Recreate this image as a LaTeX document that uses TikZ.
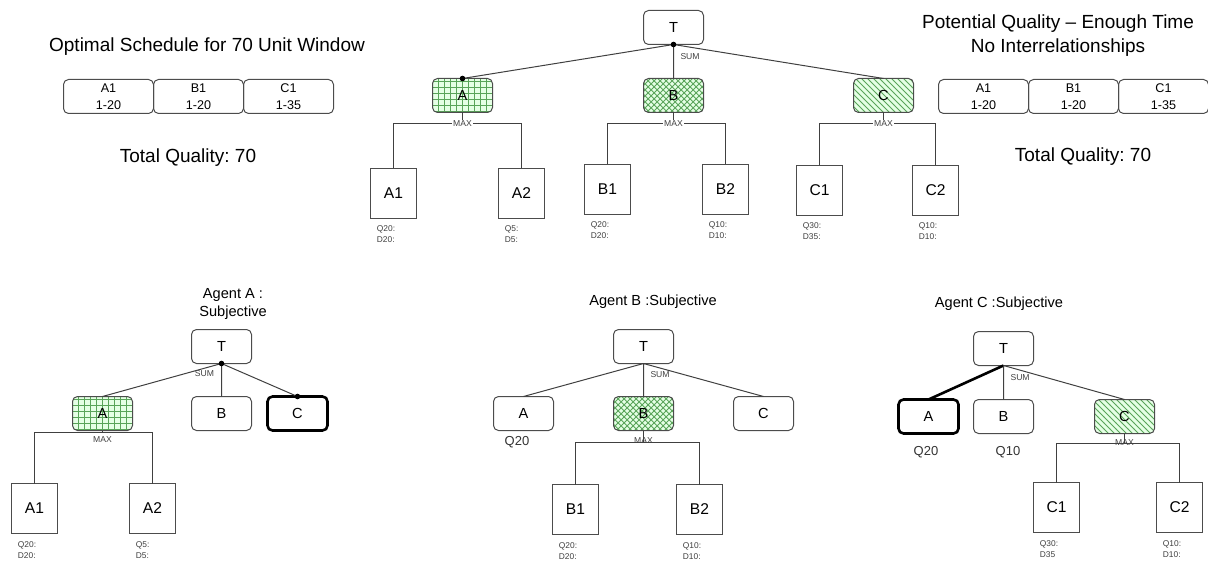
\documentclass[tikz,border=0pt]{standalone}
\usepackage{fontspec}
\setmainfont{Liberation Sans}
\frenchspacing
\usetikzlibrary{patterns,positioning}
\tikzset{
  task/.style={draw=black!70, line width=0.5pt, rounded corners=2.5pt, minimum width=30pt, minimum height=17pt, inner sep=0pt, outer sep=0pt, font=\fontsize{7.3}{8}\selectfont},
  leaf/.style={draw=black!70, line width=0.5pt, minimum width=23pt, minimum height=25pt, inner sep=0pt, outer sep=0pt, font=\fontsize{7.8}{9}\selectfont},
  slot/.style={draw=black!70, line width=0.5pt, rounded corners=2.5pt, minimum width=45pt, minimum height=17pt, inner sep=0pt, outer sep=0pt, align=center, font=\fontsize{6.3}{8.5}\selectfont},
  chosen/.style={draw=black, line width=1.3pt},
  gridA/.style={preaction={fill=green!10}, pattern=grid, pattern color=green!45!black!65},
  hatchB/.style={preaction={fill=green!10}, pattern=crosshatch, pattern color=green!45!black!65},
  stripeC/.style={preaction={fill=green!10}, pattern=north west lines, pattern color=green!45!black!65},
  qual/.style={font=\fontsize{4.2}{5.2}\selectfont, align=left, text=black!75, inner sep=0pt},
  oplabel/.style={font=\fontsize{4.3}{5}\selectfont, text=black!75, inner sep=0.5pt},
  qlabel/.style={font=\fontsize{6.5}{8}\selectfont, text=black!80},
  heading/.style={font=\fontsize{9.5}{12}\selectfont, align=center},
  agent/.style={font=\fontsize{7.3}{9}\selectfont, align=center},
  link/.style={draw=black!75, line width=0.5pt},
}
\begin{document}
\begin{tikzpicture}[x=0.5pt,y=-0.5pt]
    \newcommand{\sumDot}[1]{
        \fill #1 circle (1.4pt);
    }
\useasboundingbox (0,0) rectangle (1208,561);

\node[heading] (optTitle) at (207,47) {Optimal Schedule for 70 Unit Window};
\node[slot] (oA1) at (108.5,96.5) {A1\\1-20};
\node[slot, right=0pt of oA1] (oB1) {B1\\1-20};
\node[slot, right=0pt of oB1] (oC1) {C1\\1-35};
\node[heading] (optTotal) at (188,158) {Total Quality: 70};

\node[heading] (potTitle) at (1058,36) {Potential Quality -- Enough Time\\No Interrelationships};
\node[slot] (pA1) at (983.5,96.5) {A1\\1-20};
\node[slot, right=0pt of pA1] (pB1) {B1\\1-20};
\node[slot, right=0pt of pB1] (pC1) {C1\\1-35};
\node[heading] (potTotal) at (1083,157) {Total Quality: 70};

\node[task] (T) at (673.5,27.5) {T};
\node[task, gridA] (A) at (462.5,95.5) {A};
\node[task, hatchB] (B) at (673.5,95.5) {B};
\node[task, stripeC] (C) at (883.5,95.5) {C};
\node[leaf] (A1) at (393.5,193.5) {A1};
\node[leaf] (A2) at (521.5,193.5) {A2};
\node[leaf] (B1) at (607.5,189.5) {B1};
\node[leaf] (B2) at (725.5,189.5) {B2};
\node[leaf] (C1) at (819.5,190.5) {C1};
\node[leaf] (C2) at (935.5,190.5) {C2};
\draw[link] (T.south) -- (A.north) (T.south) -- (B.north) (T.south) -- (C.north);
\sumDot{(T.south)}
\sumDot{(A.north)}
\node[oplabel, below right=3.6pt and 2.8pt of T.south] (sum) {SUM};
\coordinate (Abar) at (462.5,123.5);
\coordinate (Bbar) at (673.5,123.5);
\coordinate (Cbar) at (883.5,123.5);
\draw[link] (A.south) -- (Abar) (A1.north) |- (Abar) -| (A2.north);
\draw[link] (B.south) -- (Bbar) (B1.north) |- (Bbar) -| (B2.north);
\draw[link] (C.south) -- (Cbar) (C1.north) |- (Cbar) -| (C2.north);
\node[oplabel, fill=white] (Amax) at (Abar) {MAX};
\node[oplabel, fill=white] (Bmax) at (Bbar) {MAX};
\node[oplabel, fill=white] (Cmax) at (Cbar) {MAX};
\node[qual, below right=3.6pt and 3pt of A1.south west] (qA1) {Q20:\\D20:};
\node[qual, below right=3.6pt and 3pt of A2.south west] (qA2) {Q5:\\D5:};
\node[qual, below right=3.6pt and 3pt of B1.south west] (qB1) {Q20:\\D20:};
\node[qual, below right=3.6pt and 3pt of B2.south west] (qB2) {Q10:\\D10:};
\node[qual, below right=3.6pt and 3pt of C1.south west] (qC1) {Q30:\\D35:};
\node[qual, below right=3.6pt and 3pt of C2.south west] (qC2) {Q10:\\D10:};

\node[agent] (agA) at (233,304) {Agent A :\\Subjective};
\node[task] (aT) at (221.5,346.5) {T};
\node[task, gridA] (aA) at (102.5,413.5) {A};
\node[task] (aB) at (221.5,413.5) {B};
\node[task, chosen] (aC) at (297.5,413.5) {C};
\node[leaf] (aA1) at (34.5,508.5) {A1};
\node[leaf] (aA2) at (152.5,508.5) {A2};
\draw[link] (aT.south) -- (aA.north) (aT.south) -- (aB.north) (aT.south) -- (aC.north);
\sumDot{(aT.south)}
\sumDot{(aC.north)}
\node[oplabel, below left=3pt and 3pt of aT.south] (aSum) {SUM};
\coordinate (aAbar) at (102.5,432.5);
\draw[link] (aA.south) -- (aAbar) (aA1.north) |- (aAbar) -| (aA2.north);
\node[oplabel, below=1.5pt of aAbar] (aAmax) {MAX};
\node[qual, below right=4pt and 3pt of aA1.south west] (qaA1) {Q20:\\D20:};
\node[qual, below right=4pt and 3pt of aA2.south west] (qaA2) {Q5:\\D5:};

\node[agent] (agB) at (653,302) {Agent B :Subjective};
\node[task] (bT) at (643.5,346.5) {T};
\node[task] (bA) at (523.5,413.5) {A};
\node[task, hatchB] (bB) at (643.5,413.5) {B};
\node[task] (bC) at (763.5,413.5) {C};
\node[leaf] (bB1) at (575.5,509.5) {B1};
\node[leaf] (bB2) at (699.5,509.5) {B2};
\draw[link] (bT.south) -- (bA.north) (bT.south) -- (bB.north) (bT.south) -- (bC.north);
\node[oplabel, below right=3.4pt and 2.8pt of bT.south] (bSum) {SUM};
\coordinate (bBbar) at (643.5,442.5);
\draw[link] (bB.south) -- (bBbar) (bB1.north) |- (bBbar) -| (bB2.north);
\node[oplabel] (bBmax) at (643.5,441) {MAX};
\node[qlabel] (bAq) at (517,442) {Q20};
\node[qual, below right=4pt and 3pt of bB1.south west] (qbB1) {Q20:\\D20:};
\node[qual, below right=4pt and 3pt of bB2.south west] (qbB2) {Q10:\\D10:};

\node[agent] (agC) at (999,304) {Agent C :Subjective};
\node[task] (cT) at (1003.5,348.5) {T};
\node[task, chosen] (cA) at (928.5,416.5) {A};
\node[task] (cB) at (1003.5,416.5) {B};
\node[task, stripeC] (cC) at (1124.5,416.5) {C};
\node[leaf] (cC1) at (1056.5,507.5) {C1};
\node[leaf] (cC2) at (1179.5,507.5) {C2};
\draw[link, line width=1.3pt, draw=black] (cT.south) -- (cA.north);
\draw[link] (cT.south) -- (cB.north) (cT.south) -- (cC.north);
\node[oplabel, below right=3.6pt and 2.8pt of cT.south] (cSum) {SUM};
\coordinate (cCbar) at (1124.5,443.5);
\draw[link] (cC.south) -- (cCbar) (cC1.north) |- (cCbar) -| (cC2.north);
\node[oplabel] (cCmax) at (1124.5,443) {MAX};
\node[qlabel] (cAq) at (926,452) {Q20};
\node[qlabel] (cBq) at (1008,452) {Q10};
\node[qual, below right=4pt and 3pt of cC1.south west] (qcC1) {Q30:\\D35};
\node[qual, below right=4pt and 3pt of cC2.south west] (qcC2) {Q10:\\D10:};
\end{tikzpicture}
\end{document}
